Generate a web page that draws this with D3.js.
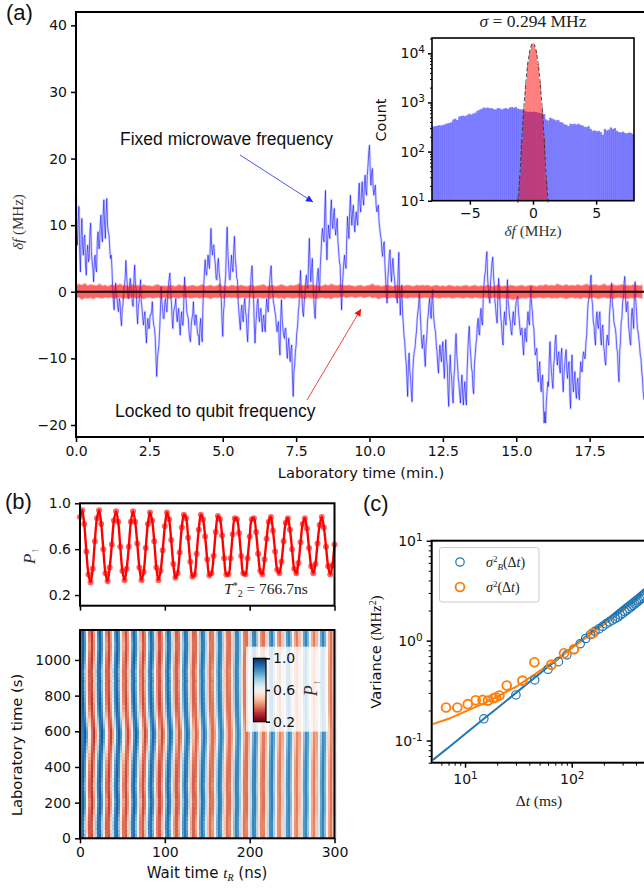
<!DOCTYPE html>
<html>
<head>
<meta charset="utf-8">
<script src="https://cdn.jsdelivr.net/npm/d3@7"></script>
<style>
  html, body { margin: 0; padding: 0; background: #fff; overflow: hidden; }
  svg { display: block; }
</style>
</head>
<body>
<svg id="chart" width="644" height="888"></svg>
<script>
// (a) frequency traces, one sample every 0.05 min
const fixedFreq = [
  14.5,7,12.8,3,11,5.5,8.5,2.5,7,5,10.3,4.5,1.5,5.5,3,9,6.5,11.5,7.5,13.8,
  8,14,9,6.5,5.5,.5,-2.7,1.3,-1,-3,-1.5,-5.1,-2,1,4.7,1,-1,2,-.5,-2.2,
  4,.5,-4.8,-1.5,1.8,-2.5,-5,-3,-7.7,-4,-5.5,-3.5,-1.5,-5,-7,-12.7,-9,-5.7,.8,-2.5,
  -4,-1,-3,1,2.8,-1.5,-5.5,-2.5,-1,-4.5,-2.5,-6.5,-3,-5,2.2,-1,-3.5,-6,-7.5,-4,
  -1.5,-5,-3.5,-6.5,-8,-4,-7.5,.5,4.8,2.5,5.5,3.5,9.5,5.5,7,4,1.8,5,2,-1,
  -6.7,-2,2.5,9.7,4,1.8,5.5,3,8.3,4,1.8,-3,-5.7,-2,-4.5,-1,-3.5,-7.5,-2,1,
  3.9,-1,-7.7,-3.5,-1,-4.5,-2.5,-6,-3.5,-6,-1,-3,1.5,3.9,0,-2,-3.5,-6,-4.5,-9.5,
  -1.2,-5.5,-7,-5.5,-10,-7,-10.5,-8,-15.7,-11,-8,-5.2,-2,3.2,-1,-3.7,-.5,2.5,.5,8,
  1.5,5,-1,-4,1,3.5,0,6,9.5,7.5,15.2,4.8,10,8,13.8,9.5,12.5,8.5,11,6,
  4,-2.7,2.5,5.5,3.5,11.3,8,14.5,10,13,9,12,10,16.3,12,16.5,13,17.5,14.5,19,
  22,16,18.5,14.5,16,12,13,9.5,7.8,5.3,7.5,2,-1.7,3.5,6.3,1.5,5,2,0,-1.7,
  5.9,-3.5,1,-4.7,-7.5,-10.7,-15.7,-9.2,-13,-16.5,-10,-8.5,-6,-3,0,-5,-8.5,-6.5,-11.2,-7,
  -3.5,-1,-4,.3,-4.5,-6,-9,-12.2,-8,-10.5,-7.5,-13,-7.2,-11,-17.2,-9.5,-13,-16.7,-11.5,-6.3,
  -11,-14,-16.7,-12.5,-17,-13.5,-17,-9,-5.2,-9.5,-12,-15.3,-9.5,-7,-4,-6.5,-2.5,-5,1,3,
  6,.5,-1.7,3,5.2,1,-2.5,-4.7,2,-2,-5,-8,-3,-5,1.8,-2.5,-4.5,-6.5,-3,-5,
  -1.5,-.7,-4,-6.5,-5.5,-9.5,-5.5,-7.5,-3,-5,.8,-3,-5.5,-9.5,-8.5,-13.5,-10.5,-15,-12.5,-19.7,
  -19.7,-15,-14.2,-7.5,-12,-14.5,-10,-6.5,-11,-9,-12.2,-8.5,-15,-11,-8.7,-13,-10.5,-17.5,-9.5,-15,
  -12,-16,-13,-16.2,-10.5,-12,-9,-10,-6.5,-1.7,-.5,2.5,-2,-5,-8,-3,-5.5,-3,-8,-5,
  -9,-11,-6.5,-8,-2,1.3,-2.5,-5,-6.5,-9,-13.5,-7.5,-4,-1,2.3,-3,-1.5,-6,-8,-2.5,
  -5.5,1.5,-3,-6,-8,-10,-13,-16.2
];
// readings taken between the samples above
const fixedMid = [
  9.5,11,6,8.5,7,8,4,6,4.5,9,6,3.5,4.5,3.5,7.5,6.5,10,8.5,11.5,10,
  12,10,8.5,5,3.5,-1.5,0,-.5,-2.5,-1,-4,-2.5,0,2,2.5,-1,1,.5,-2,2,
  1,-3,-2,.5,-1.5,-4,-3.5,-6,-5,-5.5,-3.5,-3,-4,-5.5,-10,-10,-8,-3,-1.5,-4,
  -1.5,-2.5,-.5,2,0,-4,-3,-2,-3.5,-3,-5,-4,-5,-1,0,-3,-4,-7,-5,-3.5,
  -4,-3.5,-5.5,-6.5,-5,-6.5,-2,3,3,4,4,7,6.5,7,5,2,4,3,-.5,-4.5,
  -3,1,7,6,2,4,3.5,6.5,5,2,-1.5,-4.5,-3,-4,-2,-3,-6,-4,0,3,
  .5,-5,-5,-1.5,-3.5,-3,-4.5,-4,-5.5,-2.5,-2.5,0,3,1,-1.5,-3,-5,-5,-8,-4,
  -4,-6.5,-5.5,-8.5,-8,-9.5,-8.5,-13,-12,-9,-6,-3,1,.5,-3,-1.5,1.5,1,5,4,
  3.5,1.5,-3,-1,2.5,1,4,8.5,8,12,8,8,8.5,12,10.5,11.5,9.5,10,7.5,4.5,
  0,1,4.5,4,8,9.5,12,11.5,12,10.5,11,10.5,14.5,13,15,14,16,15,17.5,21,
  18,18,15.5,15.5,13,12.5,10.5,8.5,6,7,4,-.5,2,5.5,3,4,3,.5,-1,3,
  0,-.5,-3,-6.5,-9.5,-13,-11,-12,-15,-12,-9,-7,-4,-2,-3,-7.5,-7,-9.5,-8,-4.5,
  -2,-3,-1.5,-3,-5.5,-8,-11,-9.5,-9.5,-8.5,-11,-9.5,-10,-15,-12,-12,-15.5,-13,-8,-9.5,
  -13,-15.5,-14,-15.5,-14.5,-16,-12,-6.5,-8,-11.5,-14.5,-11,-8,-5,-6,-3.5,-4.5,-1,2.5,5,
  2,-1,1.5,4.5,2.5,-1.5,-4,-.5,.5,-4,-7,-4.5,-4.5,-1,-1.5,-4,-6,-4,-4.5,-2.5,
  -1,-3,-5.5,-5.5,-8,-7,-7,-4.5,-4.5,-1.5,-2,-5,-8,-9,-12,-11.5,-13.5,-13,-17,-18,
  -16.5,-13.5,-10,-10.5,-13.5,-11,-7.5,-9.5,-9.5,-11.5,-9.5,-13,-12.5,-9.5,-12,-11,-15.5,-12,-13.5,-13,
  -15,-13.5,-15.5,-12,-12,-9.5,-10,-7.5,-3.5,-1,1.5,-1,-4.5,-7,-4,-5,-3.5,-7,-5.5,-8,
  -10.5,-7.5,-7.5,-3.5,0,-2,-4.5,-5.5,-8.5,-12,-9,-4.5,-1.5,1.5,-1.5,-1.5,-5,-7.5,-3.5,-4,
  -.5,-1.5,-5.5,-7,-9.5,-12,-15
];
// locked trace envelope, one sample every 0.1 min
const lockedHigh = [
  1.0,1.3,1.1,1.4,1.0,1.2,1.1,1.0,1.3,1.0,1.1,.9,1.2,1.0,1.1,1.3,1.0,1.1,.9,1.2,
  1.0,1.1,.9,1.2,1.0,1.0,.9,1.1,1.2,.9,1.0,.9,1.1,1.0,.9,1.2,1.0,1.1,.9,1.0,
  1.1,.9,1.0,1.2,.9,1.0,1.1,.9,1.0,1.3,.9,1.0,.9,1.1,1.0,.9,1.1,1.0,.9,1.0,
  1.1,.9,1.0,1.1,1.2,.9,1.0,1.1,.9,1.0,1.2,1.0,.9,1.1,1.0,1.1,1.3,1.0,1.1,1.0,
  1.2,1.0,1.1,.9,1.0,1.2,1.0,1.3,1.1,1.0,1.2,1.1,1.0,1.1,1.0,.9,1.0,1.1,.9,1.0,
  1.1,1.3,1.0,1.1,.9,1.0,1.1,1.0,.9,1.1,1.0,.9,1.0,1.1,1.0,.9,1.1,1.0,1.1,1.0,
  1.1,.9,1.0,1.1,.9,1.0,.9,1.1,1.0,.9,1.0,.9,1.0,1.1,.9,1.0,1.1,.9,1.0,.9,
  1.1,1.0,.9,1.0,1.2,.9,1.0,.9,1.1,1.0,.9,1.0,1.1,.9,1.0,1.1,1.0,.9,1.1,1.0,
  1.2,1.0,1.1,1.0,1.3,1.1,1.0,1.2,1.0,1.1,1.0,1.2,1.0,1.1,1.3,1.0,1.1,1.2,1.0,1.1,
  1.3,1.0,1.1,1.2,1.0,1.1,1.2,1.0,1.1,1.0,1.2,1.1,1.0,1.1
];
const lockedLow = [
  -1.1,-.9,-1.3,-1.0,-1.1,-1.0,-1.2,-.9,-1.0,-1.1,-.9,-1.0,-.9,-1.1,-1.0,-.9,-1.2,-1.0,-1.1,-.9,
  -1.0,-1.1,-.9,-1.2,-1.0,-.9,-1.1,-1.0,-.9,-1.1,-.9,-1.0,-1.2,-.9,-1.0,-1.1,-.9,-1.0,-.9,-1.1,
  -1.0,-.9,-1.1,-1.0,-.9,-1.0,-1.2,-.9,-1.0,-.9,-1.1,-1.0,-.9,-1.0,-.9,-1.1,-1.0,-.9,-1.1,-.9,
  -1.0,-1.1,-.9,-1.0,-1.1,-.9,-1.2,-1.0,-.9,-1.1,-1.0,-1.2,-.9,-1.0,-1.1,-1.0,-.9,-1.1,-1.2,-.9,
  -1.1,-1.0,-1.2,-1.0,-.9,-1.1,-1.0,-1.2,-.9,-1.0,-.9,-.8,-1.0,-.9,-.8,-1.0,-.9,-.8,-1.0,-.9,
  -.8,-1.0,-.9,-1.2,-1.0,-.9,-1.1,-1.0,-.9,-1.1,-1.0,-.9,-1.0,-1.1,-.9,-1.0,-.9,-1.1,-1.0,-.9,
  -1.0,-1.1,-.9,-1.0,-1.1,-.9,-1.0,-.9,-1.1,-1.0,-.9,-1.0,-1.1,-.9,-1.0,-1.1,-.9,-1.0,-1.1,-.9,
  -1.0,-1.1,-1.0,-.9,-1.2,-1.0,-1.1,-1.0,-1.2,-1.3,-1.1,-1.2,-1.0,-1.1,-1.0,-.9,-1.1,-1.0,-.9,-1.1,
  -1.0,-.9,-1.1,-1.0,-1.1,-.9,-1.0,-1.2,-1.0,-.9,-1.1,-1.0,-1.2,-.9,-1.0,-1.1,-.9,-1.0,-1.2,-1.0,
  -.9,-1.1,-1.0,-1.2,-1.0,-.9,-1.1,-1.0,-1.2,-1.0,-1.1,-.9,-1.0,-1.1
];
const labTicks = [0, 2.5, 5, 7.5, 10, 12.5, 15, 17.5];
const freqTicks = [-20, -10, 0, 10, 20, 30, 40];

// (a) inset histograms
const fixedCounts = [
  325,330,335,345,340,350,360,375,380,395,450,470,440,520,530,540,525,560,590,570,
  600,620,680,710,740,790,770,790,760,770,730,720,770,760,720,750,770,740,790,810,
  780,810,750,730,720,680,660,640,650,640,650,640,620,610,600,580,450,430,490,470,
  450,430,440,400,390,360,350,330,370,360,370,355,370,350,340,320,315,330,290,265,
  270,260,265,250,220,290,270,280,310,290,300,265,250,245,255,240,235,245,240,230
];
const lockedCounts = [12,32,170,790,2500,6500,11300,15600,15000,11700,6100,2700,820,190,28,11];
const gaussF = [-1.2,-1.1,-1,-.9,-.8,-.7,-.6,-.5,-.4,-.3,-.2,-.1,0,.1,.2,.3,.4,.5,.6,.7,.8,.9,1,1.1,1.2];
const gaussN = [9,19,48,150,400,950,2000,3900,6500,9500,12800,15200,16200,15200,12800,9500,6500,3900,2000,950,400,150,48,19,9];

// (b) Ramsey trace, one sample every 2.5 ns
const rampP = [
  .88,.94,.82,.58,.38,.31,.43,.67,.87,.94,.82,.60,.39,.32,.44,.64,.85,.93,.84,.62,
  .41,.33,.43,.62,.84,.93,.84,.65,.44,.33,.40,.61,.82,.92,.85,.67,.44,.33,.41,.59,
  .80,.92,.86,.68,.47,.35,.39,.57,.79,.90,.87,.70,.49,.36,.38,.56,.77,.90,.86,.71,
  .51,.37,.39,.54,.75,.89,.86,.72,.52,.38,.38,.52,.73,.87,.86,.74,.54,.39,.38,.52,
  .71,.86,.87,.75,.56,.41,.38,.51,.69,.84,.88,.76,.58,.42,.39,.49,.67,.83,.87,.77,
  .60,.43,.39,.48,.66,.82,.87,.78,.61,.45,.39,.47,.65,.81,.88,.79,.62,.45,.38,.46,.64
];
const waitTicks = [0, 100, 200, 300];
const rampTicks = [.2, .6, 1];
// stripe displacement (ns) of each 10 s row, first row is lab time 0
const rowShift = [
  -.5,-.7,-.4,-.9,-.7,-1.1,-.9,-1.2,-.9,-1,-.7,-.8,-.4,-.5,-.1,-.2,.1,0,.3,.2,
  .4,.2,.3,0,.1,-.2,-.1,-.4,-.3,-.5,-.3,-.4,-.1,-.3,.1,-.1,.2,.1,.3,.2,
  .4,.3,.6,.5,.9,.8,1.1,1,1.5,1.4,1.8,1.7,2.1,2,2.4,2.3,2.6,2.5,2.7,2.6,
  2.5,2.3,2.2,1.9,1.8,1.5,1.4,1.1,1,.7,.7,.4,.4,.2,.3,0,.1,-.2,0,-.3,
  -.2,-.4,-.3,-.6,-.4,-.7,-.5,-.6,-.3,-.6,-.5,-.8,-.6,-.9,-.7,-.7,-.4,-.5,-.2,-.3,
  0,-.1,.2,.1,.3,.3,.5,.4,.6,.5,.4,.3,.3,.1,.2,0,.1
];
const rowTicks = [0, 200, 400, 600, 800, 1000];

// (c) variance against averaging window
const blueDt = [15,30,45,60,75,90,105,120,135,150,165,180,195,210,225,240,255,270,285,300,315,330,345,360,375,390,405,420,435,450,465,480];
const blueVar = [.165,.286,.404,.517,.616,.72,.82,.93,1.05,1.15,1.24,1.31,1.39,1.47,1.54,1.6,1.66,1.72,1.8,1.87,1.95,2.02,2.1,2.18,2.25,2.33,2.41,2.49,2.57,2.65,2.74,2.82];
const orangeDt = [6.64,8.47,10.6,12.6,14.6,16.4,18.5,19.5,21,24.6,34.5,44.7,64.4,84.7,105,156];
const orangeVar = [.214,.214,.231,.253,.255,.251,.265,.271,.282,.355,.398,.607,.575,.747,.819,1.18];
const fitDt = [5,7,10,15,20,30,45,60,75,100,150,200,300,400,500];
const blueFit = [.064,.085,.116,.165,.21,.30,.426,.547,.66,.85,1.2,1.54,2.19,2.8,3.4];
const orangeFit = [.146,.165,.195,.235,.275,.345,.46,.57,.67,.84,1.16,1.45,2.02,2.55,3.1];
const varXMajor = [10, 100];
const varXMinor = [6,7,8,9,20,30,40,50,60,70,80,90,200,300,400,500,600];
const varYMajor = [.1, 1, 10];
const varYMinor = [.06,.07,.08,.09,.2,.3,.4,.5,.6,.7,.8,.9,2,3,4,5,6,7,8,9];

const svg = d3.select("#chart");
const sans = "'DejaVu Sans', sans-serif";
const helv = "'Liberation Sans', Arial, sans-serif";
const serif = "'Liberation Serif', 'DejaVu Serif', serif";
const ink = "#111";

function styleAxis(g, width = 1.5) {
  g.select(".domain").remove();
  g.selectAll("line").attr("stroke", "#000").attr("stroke-width", width);
  g.selectAll("text").attr("font-family", sans).attr("font-size", 14).attr("fill", ink);
  return g;
}

function frame(x0, y0, x1, y1, width = 2) {
  svg.append("rect")
    .attr("x", x0).attr("y", y0).attr("width", x1 - x0).attr("height", y1 - y0)
    .attr("fill", "none").attr("stroke", "#000").attr("stroke-width", width);
}

function label(x, y, html, opts = {}) {
  const t = svg.append("text")
    .attr("x", x).attr("y", y)
    .attr("font-family", opts.font || sans)
    .attr("font-size", opts.size || 14)
    .attr("fill", opts.fill || ink)
    .attr("text-anchor", opts.anchor || "middle")
    .html(html);
  if (opts.rotate) t.attr("transform", `rotate(-90 ${x} ${y})`);
  return t;
}

// superscript tick label, e.g. 10 with a raised exponent
function powerLabels(g, exps) {
  g.selectAll(".tick text").each(function (d, i) {
    d3.select(this).html(`10<tspan dy="-5" font-size="10.5">${exps[i]}</tspan>`);
  });
}

function arrowHead(id, color) {
  svg.append("defs").append("marker")
    .attr("id", id)
    .attr("viewBox", "0 -5 10 10")
    .attr("refX", 10).attr("refY", 0)
    .attr("markerWidth", 9).attr("markerHeight", 7)
    .attr("markerUnits", "userSpaceOnUse")
    .attr("orient", "auto")
    .append("path").attr("fill", color).attr("d", "M0,-5L10,0L0,5Z");
}

/* ---------- panel (a) ---------- */
const xLab = d3.scaleLinear().domain([0, 20]).range([76, 663]);
const yFreq = d3.scaleLinear().domain([-21.8, 42]).range([437, 12]);

const fixedTrace = fixedFreq.flatMap((v, i) => i < fixedMid.length
  ? [[i * .05, v], [i * .05 + .025, fixedMid[i]]]
  : [[i * .05, v]]);
const fixedLine = d3.line().x(d => xLab(d[0])).y(d => yFreq(d[1]));

// faint underlay gives the trace its soft, noisy body
svg.append("path")
  .datum(fixedTrace)
  .attr("fill", "none").attr("stroke", "#0000ff").attr("stroke-opacity", .14)
  .attr("stroke-width", 2.6).attr("stroke-linejoin", "round")
  .attr("d", fixedLine);
svg.append("path")
  .datum(fixedTrace)
  .attr("fill", "none").attr("stroke", "#0000ff").attr("stroke-opacity", .55)
  .attr("stroke-width", 1).attr("stroke-linejoin", "round")
  .attr("d", fixedLine);

svg.append("path")
  .datum(lockedHigh)
  .attr("fill", "#ff0000").attr("fill-opacity", .3)
  .attr("d", d3.area()
    .x((d, i) => xLab(i * .1))
    .y0((d, i) => yFreq(lockedLow[i]))
    .y1(d => yFreq(d)));
svg.append("path")
  .datum(lockedHigh)
  .attr("fill", "#ff0000").attr("fill-opacity", .45)
  .attr("d", d3.area()
    .x((d, i) => xLab(i * .1))
    .y0((d, i) => yFreq(lockedLow[i] * .85))
    .y1(d => yFreq(d * .85)));

svg.append("line")
  .attr("x1", xLab(0)).attr("x2", 644).attr("y1", yFreq(0)).attr("y2", yFreq(0))
  .attr("stroke", "#000").attr("stroke-width", 2);

styleAxis(svg.append("g").attr("transform", "translate(0,437)")
  .call(d3.axisBottom(xLab).tickValues(labTicks).tickFormat(d3.format(".1f")).tickSize(5).tickPadding(4)));
styleAxis(svg.append("g").attr("transform", "translate(76,0)")
  .call(d3.axisLeft(yFreq).tickValues(freqTicks).tickSize(5).tickPadding(4)));
frame(76, 12, 660, 437);

label(361, 478, "Laboratory time (min.)", { size: 14.7 });
label(23, 222, '<tspan font-style="italic">δf</tspan> (MHz)', { font: serif, size: 15, rotate: true, fill: "#333" });
label(6, 20, "(a)", { font: helv, size: 22, anchor: "start" });

label(120, 145, "Fixed microwave frequency", { font: helv, size: 17.5, anchor: "start" });
label(115, 417, "Locked to qubit frequency", { font: helv, size: 17.5, anchor: "start" });

arrowHead("head-blue", "#1a2cf0");
arrowHead("head-red", "#ee1111");
svg.append("line").attr("x1", 240).attr("y1", 155).attr("x2", 313).attr("y2", 202)
  .attr("stroke", "#1a2cf0").attr("stroke-width", .8).attr("marker-end", "url(#head-blue)");
svg.append("line").attr("x1", 307).attr("y1", 400).attr("x2", 361).attr("y2", 309)
  .attr("stroke", "#ee1111").attr("stroke-width", .8).attr("marker-end", "url(#head-red)");

/* ---------- inset histogram ---------- */
const xHist = d3.scaleLinear().domain([-8, 8]).range([432, 634]);
const yHist = d3.scaleLog().domain([10, 20500]).range([200.7, 38]);

svg.append("g").selectAll("rect")
  .data(fixedCounts)
  .join("rect")
  .attr("x", (d, i) => xHist(-8 + i * .16))
  .attr("width", xHist(.16) - xHist(0) + .2)
  .attr("y", d => yHist(d))
  .attr("height", d => yHist(10) - yHist(d))
  .attr("fill", "#0000ff").attr("fill-opacity", .5);

svg.append("g").selectAll("rect")
  .data(lockedCounts)
  .join("rect")
  .attr("x", (d, i) => xHist(-1.28 + i * .16))
  .attr("width", xHist(.16) - xHist(0))
  .attr("y", d => yHist(d))
  .attr("height", d => yHist(10) - yHist(d))
  .attr("fill", "#ff0000").attr("fill-opacity", .5);

svg.append("path")
  .datum(gaussN)
  .attr("fill", "none").attr("stroke", "#333").attr("stroke-opacity", .85)
  .attr("stroke-width", 1).attr("stroke-dasharray", "4 2")
  .attr("d", d3.line().x((d, i) => xHist(gaussF[i])).y(d => yHist(d)));

styleAxis(svg.append("g").attr("transform", "translate(0,200.7)")
  .call(d3.axisBottom(xHist).tickValues([-5, 0, 5]).tickSize(4).tickPadding(3)));
const histMajor = styleAxis(svg.append("g").attr("transform", "translate(432,0)")
  .call(d3.axisLeft(yHist).tickValues([10, 100, 1000, 10000]).tickSize(4).tickPadding(3)));
powerLabels(histMajor, [1, 2, 3, 4]);
styleAxis(svg.append("g").attr("transform", "translate(432,0)")
  .call(d3.axisLeft(yHist).tickValues([20,30,40,50,60,70,80,90,200,300,400,500,600,700,800,900,2000,3000,4000,5000,6000,7000,8000,9000,20000]).tickSize(2).tickFormat("")), 1);
frame(432, 38, 634, 200.7, 1.6);

label(533, 27, '<tspan font-style="italic">σ</tspan> = 0.294 MHz', { font: serif, size: 17.5, fill: "#222" });
label(533, 236, '<tspan font-style="italic">δf</tspan> (MHz)', { font: serif, size: 15.4, fill: "#333" });
label(386, 120, "Count", { size: 14.5, rotate: true, anchor: "middle" });

/* ---------- panel (b) trace ---------- */
const xWait = d3.scaleLinear().domain([0, 300]).range([80, 334.5]);
const yRamp = d3.scaleLinear().domain([.107, 1]).range([605.7, 503.3]);

svg.append("g").selectAll("circle")
  .data(rampP)
  .join("circle")
  .attr("cx", (d, i) => xWait(i * 2.5))
  .attr("cy", d => yRamp(d))
  .attr("r", 3)
  .attr("fill", "#ff0000").attr("fill-opacity", .6);

svg.append("path")
  .datum(rampP)
  .attr("fill", "none").attr("stroke", "#ff0000").attr("stroke-width", 2.4)
  .attr("d", d3.line().x((d, i) => xWait(i * 2.5)).y(d => yRamp(d)).curve(d3.curveCatmullRom));

styleAxis(svg.append("g").attr("transform", "translate(0,605.7)")
  .call(d3.axisBottom(xWait).tickValues(waitTicks).tickSize(5).tickFormat("")));
styleAxis(svg.append("g").attr("transform", "translate(80,0)")
  .call(d3.axisLeft(yRamp).tickValues(rampTicks).tickFormat(d3.format(".1f")).tickSize(5).tickPadding(4)));
frame(80, 503.3, 334.5, 605.7);

label(5, 509, "(b)", { font: helv, size: 22, anchor: "start" });
label(35, 556, '<tspan font-style="italic">P</tspan><tspan dy="3" font-size="11" fill="#777">↑</tspan>', { font: serif, size: 17, rotate: true, fill: "#333" });
label(224, 594, '<tspan font-style="italic">T</tspan><tspan dy="-5" font-size="10">*</tspan><tspan dy="8" font-size="10">2</tspan><tspan dy="-3"> = 766.7ns</tspan>', { font: serif, size: 15.5, anchor: "start", fill: "#222" });

/* ---------- panel (b) heatmap ---------- */
const yRow = d3.scaleLinear().domain([0, 1168]).range([838.3, 630]);
const color = d3.scaleSequential(d3.interpolateRdBu).domain([.2, 1]);
const waitTimes = rampP.map((d, i) => i * 2.5);
const sampleP = d3.scaleLinear().domain(waitTimes).range(rampP).clamp(true);
// bends are strongest for short wait times
const shiftWeight = d3.scaleLinear().domain([0, 100, 200, 300]).range([1, 1, .45, .35]);

const cells = svg.append("g").attr("shape-rendering", "crispEdges");
rowShift.forEach((shift, r) => {
  cells.append("g").selectAll("rect")
    .data(waitTimes)
    .join("rect")
    .attr("x", d => xWait(d))
    .attr("y", yRow((r + 1) * 10))
    .attr("width", xWait(2.5) - xWait(0) + .6)
    .attr("height", yRow(0) - yRow(10) + .6)
    .attr("fill", d => color(sampleP(d - shift * shiftWeight(d))));
});

styleAxis(svg.append("g").attr("transform", "translate(0,838.3)")
  .call(d3.axisBottom(xWait).tickValues(waitTicks).tickSize(5).tickPadding(4)));
styleAxis(svg.append("g").attr("transform", "translate(80,0)")
  .call(d3.axisLeft(yRow).tickValues(rowTicks).tickFormat(d3.format("d")).tickSize(5).tickPadding(4)));
frame(80, 630, 334.5, 838.3);

label(22, 745, "Laboratory time (s)", { size: 14.8, rotate: true });
label(207, 878, 'Wait time <tspan font-family="Liberation Serif" font-style="italic">t</tspan><tspan font-family="Liberation Serif" font-style="italic" font-size="10" dy="3">R</tspan><tspan dy="-3"> (ns)</tspan>', { size: 15 });

// colorbar on a translucent box
svg.append("rect").attr("x", 246).attr("y", 646.7).attr("width", 82).attr("height", 85)
  .attr("fill", "#fff").attr("fill-opacity", .8);
const yBar = d3.scaleLinear().domain([.2, 1]).range([721.7, 658.3]);
svg.append("g").attr("shape-rendering", "crispEdges").selectAll("rect")
  .data(d3.range(.2, 1, .0125))
  .join("rect")
  .attr("x", 253.5).attr("width", 12.5)
  .attr("y", d => yBar(d + .0125))
  .attr("height", yBar(.2) - yBar(.2125) + .5)
  .attr("fill", d => color(d));
styleAxis(svg.append("g").attr("transform", "translate(266,0)")
  .call(d3.axisRight(yBar).tickValues(rampTicks).tickFormat(d3.format(".1f")).tickSize(4).tickPadding(3)));
frame(253.5, 658.3, 266, 721.7, 1.2);
label(317, 688, '<tspan font-style="italic">P</tspan><tspan dy="3" font-size="11" fill="#777">↑</tspan>', { font: serif, size: 18, rotate: true, fill: "#333" });

/* ---------- panel (c) ---------- */
const xVar = d3.scaleLog().domain([4.87, 700]).range([431.7, 431.7 + 106.7 * Math.log10(700 / 4.87)]);
const yVar = d3.scaleLog().domain([.06, 10]).range([762.7, 540.7]);

const varLine = (dts) => d3.line().x((d, i) => xVar(dts[i])).y(d => yVar(d));
svg.append("path").datum(blueFit).attr("fill", "none").attr("stroke", "#1f77b4").attr("stroke-width", 2)
  .attr("d", varLine(fitDt));
svg.append("path").datum(orangeFit).attr("fill", "none").attr("stroke", "#ff7f0e").attr("stroke-width", 2)
  .attr("d", varLine(fitDt));

svg.append("g").selectAll("circle")
  .data(blueVar)
  .join("circle")
  .attr("cx", (d, i) => xVar(blueDt[i]))
  .attr("cy", d => yVar(d))
  .attr("r", 4.2)
  .attr("fill", "none").attr("stroke", "#1f77b4").attr("stroke-width", 1.2);
svg.append("g").selectAll("circle")
  .data(orangeVar)
  .join("circle")
  .attr("cx", (d, i) => xVar(orangeDt[i]))
  .attr("cy", d => yVar(d))
  .attr("r", 4.4)
  .attr("fill", "none").attr("stroke", "#ff7f0e").attr("stroke-width", 1.9);

const varX = styleAxis(svg.append("g").attr("transform", "translate(0,762.7)")
  .call(d3.axisBottom(xVar).tickValues(varXMajor).tickSize(5).tickPadding(6)));
powerLabels(varX, [1, 2]);
styleAxis(svg.append("g").attr("transform", "translate(0,762.7)")
  .call(d3.axisBottom(xVar).tickValues(varXMinor).tickSize(3).tickFormat("")), 1);
const varY = styleAxis(svg.append("g").attr("transform", "translate(431.7,0)")
  .call(d3.axisLeft(yVar).tickValues(varYMajor).tickSize(5).tickPadding(4)));
powerLabels(varY, ["-1", 0, 1]);
styleAxis(svg.append("g").attr("transform", "translate(431.7,0)")
  .call(d3.axisLeft(yVar).tickValues(varYMinor).tickSize(3).tickFormat("")), 1);
frame(431.7, 540.7, 670, 762.7);

label(363, 511, "(c)", { font: helv, size: 22, anchor: "start" });
label(381, 652, 'Variance <tspan font-family="Liberation Serif">(MHz</tspan><tspan font-family="Liberation Serif" dy="-5" font-size="10">2</tspan><tspan font-family="Liberation Serif" dy="5">)</tspan>', { size: 14.7, rotate: true });
label(539, 806, 'Δ<tspan font-style="italic">t</tspan> (ms)', { font: serif, size: 15.5, fill: "#222" });

// legend
svg.append("rect").attr("x", 439.5).attr("y", 547.5).attr("width", 99.5).attr("height", 54.5).attr("rx", 2.5)
  .attr("fill", "#fff").attr("fill-opacity", .8).attr("stroke", "#ccc").attr("stroke-width", 1);
svg.append("circle").attr("cx", 460).attr("cy", 562).attr("r", 4.2)
  .attr("fill", "none").attr("stroke", "#1f77b4").attr("stroke-width", 1.2);
svg.append("circle").attr("cx", 460).attr("cy", 587).attr("r", 4.4)
  .attr("fill", "none").attr("stroke", "#ff7f0e").attr("stroke-width", 1.9);
label(486, 567, '<tspan font-style="italic">σ</tspan><tspan dy="-5" font-size="9">2</tspan><tspan dy="8" font-size="9" font-style="italic">B</tspan><tspan dy="-3">(Δ</tspan><tspan font-style="italic">t</tspan>)', { font: serif, size: 14, anchor: "start", fill: "#222" });
label(486, 592, '<tspan font-style="italic">σ</tspan><tspan dy="-5" font-size="9">2</tspan><tspan dy="5">(Δ</tspan><tspan font-style="italic">t</tspan>)', { font: serif, size: 14, anchor: "start", fill: "#222" });
</script>
</body>
</html>
